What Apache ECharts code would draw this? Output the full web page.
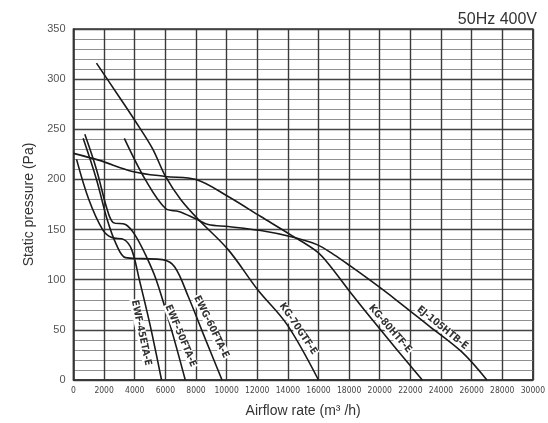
<!DOCTYPE html>
<html><head><meta charset="utf-8">
<script src="https://cdn.jsdelivr.net/npm/echarts/dist/echarts.min.js"></script>
<style>html,body{margin:0;padding:0;background:#fff}#c{width:548px;height:423px}</style>
</head><body><div id="c"></div>
<script>
// ---- data (airflow m3/h, static pressure Pa) ----
const xTickValues = [0,2000,4000,6000,8000,10000,12000,14000,16000,18000,20000,22000,24000,26000,28000,30000];
const yTickValues = [0,50,100,150,200,250,300,350];
const seriesNames = ['EWF-45ETA-E','EWF-50FTA-E','EWG-60FTA-E','KG-70GTF-E','KG-80HTF-E','EJ-105HTB-E'];
const ewf45 = [[200,220],[1000,180],[1900,150],[2500,142],[3300,140],[3800,130],[4300,100],[5000,55],[5750,0]];
const ewf50 = [[740,245],[1500,210],[2200,170],[2600,157],[3400,155],[4000,145],[4700,125],[5400,100],[6400,50],[7300,0]];
const ewg60 = [[630,241],[1500,200],[2200,160],[2800,135],[3400,122],[4500,121],[5800,120],[6600,113],[7500,83],[8500,45],[9700,0]];
const kg70 = [[1500,316],[3000,282],[4000,259],[5150,231],[6010,203],[7000,180],[8160,160],[10100,130],[12030,90],[13960,55],[16000,0]];
const kg80 = [[0,226],[1700,219],[3850,208],[6000,203],[8000,200],[10100,183],[12230,163],[14160,145],[15900,128],[16750,114],[18050,88],[20000,51],[22780,0]];
const ej105 = [[3320,241],[4720,199],[6010,171],[6870,168],[7950,161],[8800,155],[10100,153],[12230,149],[14160,143],[15900,135],[17000,125],[18050,114],[19500,98],[21060,80],[23210,54],[25360,28],[27000,0]];
const curves = [ewf45, ewf50, ewg60, kg70, kg80, ej105];

const chart = echarts.init(document.getElementById('c'));
const lineStyle = {color:'#1a1a1a', width:1.6};
chart.setOption({
  animation:false,
  backgroundColor:'#fff',
  title:{text:'50Hz 400V', right:6, top:7, textStyle:{fontFamily:'Liberation Sans, Arial', fontSize:16, fontWeight:'normal', color:'#333'}},
  grid:{left:73.5, top:29, width:464.5, height:351, show:true, borderColor:'#333', borderWidth:1.5, backgroundColor:'transparent'},
  xAxis:{type:'value', min:0, max:30000, interval:2000,
    name:'Airflow rate (m³ /h)', nameLocation:'middle', nameGap:24,
    nameTextStyle:{fontFamily:'Liberation Sans, Arial', fontSize:14, color:'#333'},
    axisLine:{show:true, lineStyle:{color:'#333', width:1.5}}, axisTick:{show:false},
    axisLabel:{margin:6, fontFamily:'Liberation Sans Narrow, DejaVu Sans Condensed, Liberation Sans', fontSize:8.5, color:'#444',
      formatter:v=> xTickValues.includes(v) ? String(v) : ''},
    splitLine:{show:true, lineStyle:{color:'#3a3a3a', width:1.4}}
  },
  yAxis:{type:'value', min:0, max:350, interval:50,
    name:'Static pressure (Pa)', nameLocation:'middle', nameGap:35, nameRotate:90,
    nameTextStyle:{fontFamily:'Liberation Sans, Arial', fontSize:14, color:'#333'},
    axisLine:{show:true, lineStyle:{color:'#333', width:1.5}}, axisTick:{show:false},
    axisLabel:{margin:8, fontFamily:'Liberation Sans, Arial', fontSize:11, color:'#555',
      formatter:v=> yTickValues.includes(v) ? String(v) : ''},
    splitLine:{show:true, lineStyle:{color:'#444', width:1.3}},
    minorTick:{show:false, splitNumber:5},
    minorSplitLine:{show:true, lineStyle:{color:'#909090', width:1}}
  },
  series: curves.map((d,i)=>({
    name:seriesNames[i], type:'line', data:d, smooth:0.35, showSymbol:false, symbol:'none',
    lineStyle:lineStyle, z:3
  }))
});

// rotated curve labels placed through the chart's own scales
const labelSpecs = [
  {name:'EWF-45ETA-E', at:[4418,47], angle:78},
  {name:'EWF-50FTA-E', at:[6998,44], angle:67},
  {name:'EWG-60FTA-E', at:[8998,53], angle:64},
  {name:'KG-70GTF-E',  at:[14674,51], angle:56},
  {name:'KG-80HTF-E',  at:[20672,51], angle:49},
  {name:'EJ-105HTB-E', at:[24091,52], angle:39}
];
chart.setOption({graphic: labelSpecs.map(s=>{
  const p = chart.convertToPixel({gridIndex:0}, s.at);
  return {type:'text', x:p[0], y:p[1], rotation:-s.angle*Math.PI/180, z:10,
    style:{text:s.name, align:'center', verticalAlign:'middle',
      font:'bold 10px "Liberation Sans Narrow", "DejaVu Sans Condensed", sans-serif',
      fill:'#333', backgroundColor:'#fff', padding:[0,1]}};
})});
</script></body></html>
